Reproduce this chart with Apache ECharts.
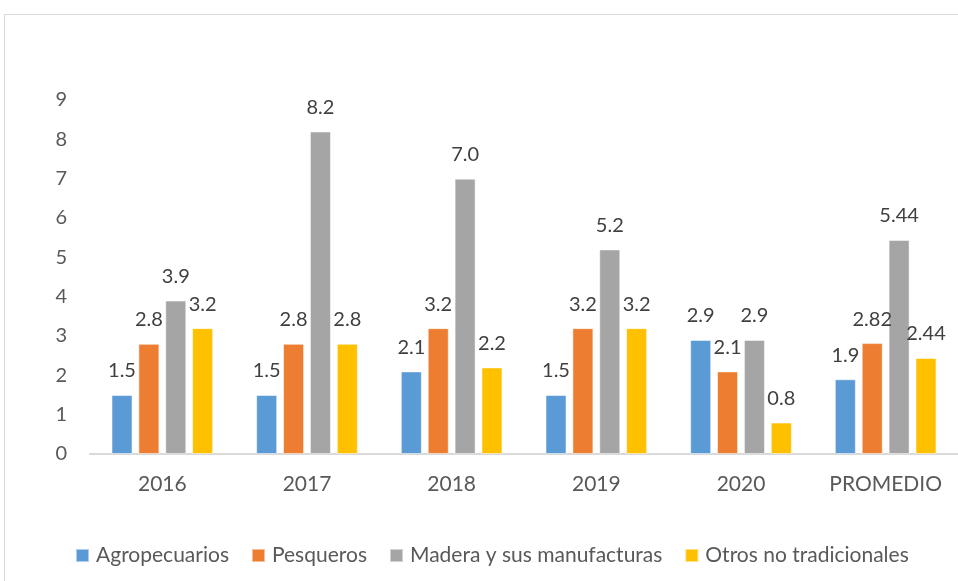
<!DOCTYPE html>
<html><head><meta charset="utf-8">
<script src="https://cdn.jsdelivr.net/npm/echarts@6/dist/echarts.min.js"></script>
<style>html,body{margin:0;padding:0;background:#fff}#c{width:958px;height:581px}
#frame{position:absolute;left:4px;top:14px;width:1000px;height:600px;border:1px solid #d9d9d9;box-sizing:border-box;pointer-events:none}</style>
</head><body><div id="c"></div><div id="frame"></div>
<script>
const categories = ['2016','2017','2018','2019','2020','PROMEDIO'];
const agropecuarios = [1.5,1.5,2.1,1.5,2.9,1.9];
const pesqueros = [2.8,2.8,3.2,3.2,2.1,2.82];
const madera = [3.9,8.2,7.0,5.2,2.9,5.44];
const otros = [3.2,2.8,2.2,3.2,0.8,2.44];
const seriesNames = ['Agropecuarios','Pesqueros','Madera y sus manufacturas','Otros no tradicionales'];
const colors = ['#5B9BD5','#ED7D31','#A5A5A5','#FFC000'];
const font = 'Lato, "Open Sans", sans-serif';
const fmt = p => { const v = p.value; return Number.isInteger(Math.round(v*100)/10) ? v.toFixed(1) : String(v); };
const chart = echarts.init(document.getElementById('c'));
const mk = (name, data, i) => ({
  name, type:'bar', data, barWidth:21, barGap:'28%',
  itemStyle:{color:colors[i], borderColor:'rgba(255,255,255,0.5)', borderWidth:1},
  label:{show:true, position:'top', distance:14, color:'#404040', fontSize:20, fontFamily:font, formatter:fmt}
});
chart.setOption({
  animation:false,
  color:colors,
  grid:{left:90, top:100, width:878, height:354, containLabel:false},
  xAxis:{type:'category', data:categories,
    axisLine:{lineStyle:{color:'#d9d9d9', width:2}}, axisTick:{show:false},
    axisLabel:{color:'#595959', fontSize:21, fontFamily:font, margin:20, interval:0}},
  yAxis:{type:'value', min:0, max:9, interval:1,
    axisLine:{show:false}, axisTick:{show:false}, splitLine:{show:false},
    axisLabel:{color:'#595959', fontSize:20, fontFamily:font, margin:23}},
  legend:{top:540, left:70, itemWidth:13, itemHeight:13, itemGap:22, icon:'rect',
    textStyle:{color:'#595959', fontSize:21, fontFamily:font, padding:[0,0,0,2]}},
  series:[mk(seriesNames[0],agropecuarios,0), mk(seriesNames[1],pesqueros,1), mk(seriesNames[2],madera,2), mk(seriesNames[3],otros,3)]
});
</script></body></html>
